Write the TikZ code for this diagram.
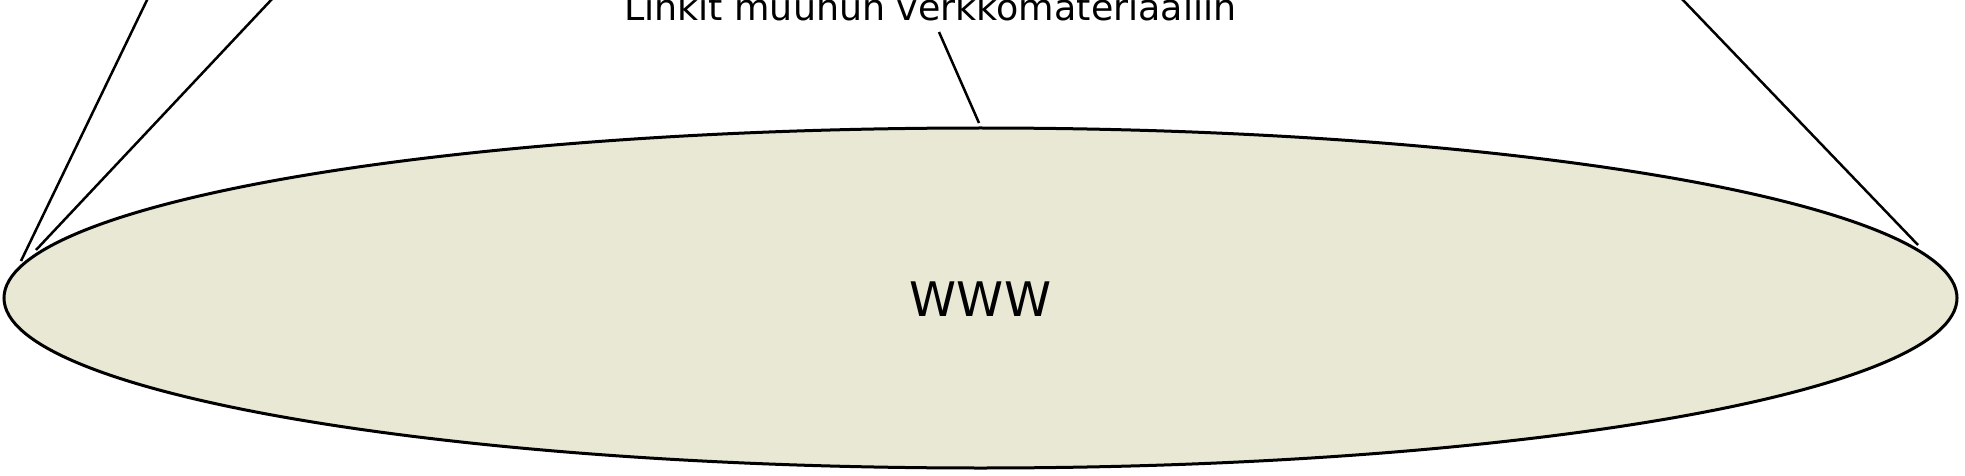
\documentclass[tikz,border=0pt]{standalone}
\usepackage{fontspec}
\setmainfont{DejaVu Sans}
\usetikzlibrary{shapes.geometric,positioning}

\begin{document}
\begin{tikzpicture}[x=0.5pt,y=-0.5pt,semithick,line width=1pt]
\definecolor{webfill}{RGB}{233,232,213}
\tikzstyle{every node}=[inner sep=0pt,outer sep=0pt]
\tikzstyle{web}=[ellipse,draw=black,fill=webfill,line width=1.5pt,minimum width=976.5pt,minimum height=170pt]
\tikzstyle{link}=[draw=black,line width=1.25pt]
\useasboundingbox (0,0) rectangle (1965,476);
\node[web] (W) at (980.5,298) {};
\node[anchor=base] (T) at (980.5,316) {\fontsize{23.8}{26}\selectfont WWW};
\node[anchor=base west] (L) at (624,21) {\fontsize{18.2}{20}\selectfont Linkit muuhun verkkomateriaaliin};
\coordinate (a1) at (21,261);
\coordinate (a2) at (148,-2);
\coordinate (b1) at (36,250);
\coordinate (b2) at (273,-2);
\coordinate (c1) at (1918,245);
\coordinate (c2) at (1681,-2);
\coordinate (d1) at (939,32);
\coordinate (d2) at (979,123);
\path[link]
(a1) -- (a2)
(b1) -- (b2)
(c1) -- (c2)
(d1) -- (d2);
\end{tikzpicture}
\end{document}
